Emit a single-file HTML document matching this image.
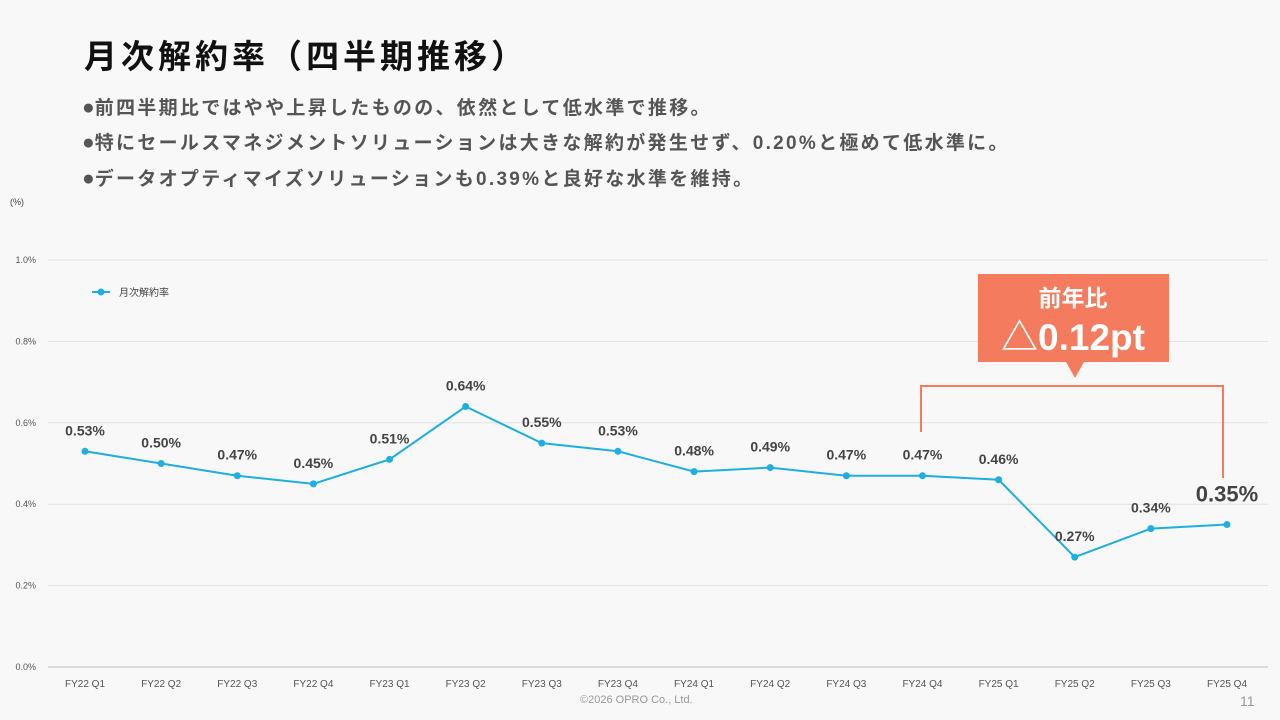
<!DOCTYPE html>
<html><head><meta charset="utf-8">
<style>
body{margin:0;width:1280px;height:720px;background:#f8f8f8;font-family:"Liberation Sans","Noto Sans CJK JP",sans-serif;overflow:hidden;position:relative}
.t{position:absolute;white-space:nowrap}
.b{font-size:19px;font-weight:bold;color:#555;letter-spacing:2.3px}
.b span{font-size:21px;letter-spacing:0}
</style></head><body>
<div class="t" style="left:84px;top:30px;font-size:33px;font-weight:bold;color:#111;letter-spacing:4px">月次解約率（四半期推移）</div>
<div class="t b" style="left:82px;top:93px"><span>●</span>前四半期比ではやや上昇したものの、依然として低水準で推移。</div>
<div class="t b" style="left:82px;top:128px"><span>●</span>特にセールスマネジメントソリューションは大きな解約が発生せず、0.20%と極めて低水準に。</div>
<div class="t b" style="left:82px;top:164px"><span>●</span>データオプティマイズソリューションも0.39%と良好な水準を維持。</div>
<svg id="chart" width="1280" height="720" style="position:absolute;left:0;top:0">
<text x="10" y="205" font-size="9" fill="#444">(%)</text>
<line x1="92" y1="292" x2="110" y2="292" stroke="#1eaee0" stroke-width="2"/>
<circle cx="101" cy="292" r="3.5" fill="#1eaee0"/>
<text x="119" y="296" font-size="10" fill="#444">月次解約率</text>
<g id="grid"></g><g id="series"></g>
<rect x="978" y="274" width="191" height="88" fill="#f47b5e"/>
<polygon points="1066,362 1084,362 1075,378" fill="#f47b5e"/>
<text x="1073" y="306" font-size="23" font-weight="bold" fill="#fff" text-anchor="middle">前年比</text>
<text x="1073" y="350" font-size="37" font-weight="bold" fill="#fff" text-anchor="middle">△0.12pt</text>
<polyline points="921,432 921,386 1223,386 1223,478" fill="none" stroke="#f47b5e" stroke-width="2"/>
</svg>
<div class="t" style="left:580px;top:694px;font-size:11px;color:#999">©2026 OPRO Co., Ltd.</div>
<div class="t" style="left:1240px;top:693px;font-size:14px;color:#999">11</div>
<script>
const categories=["FY22 Q1","FY22 Q2","FY22 Q3","FY22 Q4","FY23 Q1","FY23 Q2","FY23 Q3","FY23 Q4","FY24 Q1","FY24 Q2","FY24 Q3","FY24 Q4","FY25 Q1","FY25 Q2","FY25 Q3","FY25 Q4"];
const values=[0.53,0.50,0.47,0.45,0.51,0.64,0.55,0.53,0.48,0.49,0.47,0.47,0.46,0.27,0.34,0.35];
const yTicks=[0,0.2,0.4,0.6,0.8,1.0];
const yTickLabels=["0.0%","0.2%","0.4%","0.6%","0.8%","1.0%"];
const NS="http://www.w3.org/2000/svg";
const x=i=>85+i*(1227-85)/(categories.length-1);
const y=v=>667-v*407;
const grid=document.getElementById('grid'),ser=document.getElementById('series');
function mk(t,a,p){const e=document.createElementNS(NS,t);for(const k in a)e.setAttribute(k,a[k]);p.appendChild(e);return e;}
yTicks.forEach((v,i)=>{
 const l=mk('line',{x1:48,x2:1268,y1:y(v),y2:y(v),stroke:v===0?'#bbb':'#e2e2e2','stroke-width':1},grid);
 
 
 const t=mk('text',{x:36,y:y(v)+3,'font-size':9,fill:'#555','text-anchor':'end'},grid);t.textContent=yTickLabels[i];
 
 
});
categories.forEach((c,i)=>{
 const t=mk('text',{x:x(i),y:687,'font-size':10,fill:'#555','text-anchor':'middle'},grid);t.textContent=c;
 
 
});
const pl=mk('polyline',{points:values.map((v,i)=>x(i)+','+y(v)).join(' '),fill:'none',stroke:'#1eaee0','stroke-width':2},ser);


values.forEach((v,i)=>{
 const c=mk('circle',{cx:x(i),cy:y(v),r:3.5,fill:'#1eaee0'},ser);
 
 
 const last=i===values.length-1;
 const t=mk('text',{x:x(i),y:y(v)-(last?23:16),'font-size':last?22:14,'font-weight':'bold',fill:'#444','text-anchor':'middle'},ser);
 t.textContent=v.toFixed(2)+'%';
 
 
});
</script>
</body></html>
